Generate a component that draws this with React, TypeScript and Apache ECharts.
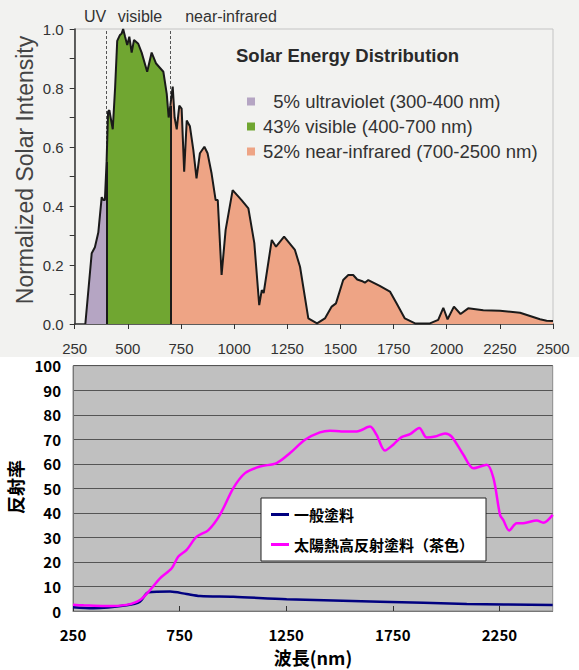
import React, { useEffect, useRef } from "react";
import * as echarts from "echarts";

// ---------- Top chart: solar spectrum ----------
const topXTicks = [250, 500, 750, 1000, 1250, 1500, 1750, 2000, 2250, 2500];
const bandLabels = ["UV", "visible", "near-infrared"];
const bandNames = [
  "  5% ultraviolet (300-400 nm)",
  "43% visible (400-700 nm)",
  "52% near-infrared (700-2500 nm)",
];
const uvData: number[][] = [
  [300, 0], [330, 0.24], [345, 0.26], [361, 0.31], [377, 0.43], [385, 0.42], [392, 0.42], [400, 0.55],
];
const visData: number[][] = [
  [400, 0.55], [407, 0.72], [413, 0.725], [419, 0.7], [429, 0.66], [440, 0.8], [450, 0.96], [463, 0.98],
  [471, 0.985], [478, 1.0], [487, 0.974], [497, 0.946], [507, 0.974], [518, 0.92], [529, 0.963],
  [549, 0.95], [565, 0.92], [591, 0.855], [612, 0.92], [632, 0.884], [667, 0.855], [683, 0.78],
  [692, 0.7], [700, 0.74],
];
const nirData: number[][] = [
  [700, 0.74], [711, 0.805], [720, 0.7], [730, 0.66], [742, 0.74], [753, 0.73], [765, 0.516],
  [777, 0.69], [792, 0.67], [808, 0.59], [823, 0.494], [839, 0.579], [860, 0.601], [875, 0.579],
  [894, 0.51], [913, 0.42], [923, 0.42], [941, 0.166], [960, 0.319], [993, 0.454], [1035, 0.42],
  [1067, 0.392], [1095, 0.274], [1118, 0.064], [1130, 0.115], [1139, 0.105], [1177, 0.285],
  [1197, 0.262], [1235, 0.296], [1286, 0.251], [1310, 0.194], [1349, 0.019], [1390, 0.002],
  [1427, 0.019], [1459, 0.059], [1479, 0.07], [1513, 0.149], [1537, 0.166], [1560, 0.166],
  [1579, 0.151], [1600, 0.146], [1615, 0.14], [1631, 0.149], [1685, 0.129], [1733, 0.11],
  [1764, 0.07], [1803, 0.019], [1851, 0.002], [1921, 0.002], [1960, 0.014], [1984, 0.055],
  [2004, 0.016], [2034, 0.059], [2065, 0.034], [2101, 0.053], [2172, 0.047], [2251, 0.045],
  [2345, 0.038], [2392, 0.027], [2439, 0.016], [2470, 0.011], [2500, 0.01],
];
const bandEdges = [400, 700];

// ---------- Bottom chart: reflectance ----------
const seriesNames = ["一般塗料", "太陽熱高反射塗料（茶色）"];
const normalPaint: number[][] = [
  [250, 1.5], [345, 1.1], [502, 2.3], [564, 3.8], [604, 7.6], [705, 7.9], [783, 6.9], [846, 6.1],
  [1002, 5.8], [1252, 4.8], [1690, 3.8], [2097, 2.9], [2500, 2.4],
];
const reflectivePaint: number[][] = [
  [250, 2.5], [300, 2.3], [400, 2.0], [500, 2.5], [564, 4.5], [619, 9.3], [658, 13.3], [713, 17.4],
  [744, 22.2], [783, 24.9], [830, 30.3], [885, 33], [939, 39.2], [1002, 50.1], [1057, 56.2],
  [1127, 58.9], [1205, 60.3], [1268, 64.4], [1338, 69.8], [1408, 72.8], [1455, 73.5], [1510, 73.2],
  [1581, 73.2], [1643, 75.2], [1674, 71.8], [1713, 65.4], [1752, 67.8], [1791, 70.9], [1831, 72.1],
  [1874, 74.6], [1909, 70.7], [1948, 71.1], [1995, 72.4], [2026, 71.1], [2081, 63.7], [2128, 58.2],
  [2191, 59.6], [2222, 54.2], [2253, 39.2], [2268, 37.1], [2296, 32.8], [2331, 35.8], [2362, 35.8],
  [2425, 36.9], [2456, 36], [2500, 39.2],
];

const UV_COLOR = "#b5a5c3";
const VIS_COLOR = "#70a631";
const NIR_COLOR = "#eea485";
const LATIN = "Liberation Sans, Arial, sans-serif";
const CJK = "Noto Sans CJK JP, sans-serif";

export default function App() {
  const ref = useRef<HTMLDivElement>(null);
  useEffect(() => {
    if (!ref.current) return;
    const chart = echarts.init(ref.current, undefined, { renderer: "svg" });
    const areaSeries = (name: string, data: number[][], color: string, extra: any = {}) => ({
      type: "line",
      name,
      xAxisIndex: 0,
      yAxisIndex: 0,
      data,
      showSymbol: false,
      symbol: "none",
      lineStyle: { color: "#1a1a1a", width: 2 },
      itemStyle: { color },
      areaStyle: { color, opacity: 1 },
      z: 2,
      ...extra,
    });
    const plain = (v: number) => String(v);
    chart.setOption({
      animation: false,
      backgroundColor: "#ffffff",
      graphic: [
        { type: "rect", z: -10, shape: { x: 0, y: 0, width: 579, height: 357 }, style: { fill: "#f2f2f0" } },
        {
          type: "text", x: 95, y: 16,
          style: { text: bandLabels[0], font: `16px ${LATIN}`, fill: "#333", textAlign: "center", textVerticalAlign: "middle" },
        },
        {
          type: "text", x: 140, y: 16,
          style: { text: bandLabels[1], font: `16px ${LATIN}`, fill: "#333", textAlign: "center", textVerticalAlign: "middle" },
        },
        {
          type: "text", x: 231, y: 16,
          style: { text: bandLabels[2], font: `16px ${LATIN}`, fill: "#333", textAlign: "center", textVerticalAlign: "middle" },
        },
        {
          type: "text", x: 236, y: 55,
          style: { text: "Solar Energy Distribution", font: `bold 18.5px ${LATIN}`, fill: "#2a2a2a", textAlign: "left", textVerticalAlign: "middle" },
        },
        {
          type: "text", x: 25, y: 170, rotation: Math.PI / 2,
          style: { text: "Normalized Solar Intensity", font: `23px ${LATIN}`, fill: "#444", textAlign: "center", textVerticalAlign: "middle" },
        },
        {
          type: "text", x: 15, y: 487, rotation: Math.PI / 2,
          style: { text: "反射率", font: `bold 18px ${CJK}`, fill: "#000", textAlign: "center", textVerticalAlign: "middle" },
        },
        {
          type: "text", x: 313, y: 657,
          style: { text: "波長(nm)", font: `bold 18px ${CJK}`, fill: "#000", textAlign: "center", textVerticalAlign: "middle" },
        },
      ],
      legend: [
        {
          left: 242, top: 87, orient: "vertical", itemWidth: 8, itemHeight: 8, itemGap: 6, icon: "rect",
          data: bandNames, selectedMode: false,
          textStyle: { fontSize: 18.5, color: "#333", fontFamily: LATIN, padding: [0, 0, 0, 3] },
        },
        {
          left: 261, top: 498, orient: "vertical", itemWidth: 18, itemHeight: 3, itemGap: 15, icon: "rect",
          data: seriesNames, selectedMode: false,
          backgroundColor: "#ffffff", borderColor: "#222", borderWidth: 1, borderRadius: 0,
          padding: [9, 12, 9, 10],
          textStyle: { fontSize: 15, color: "#000", fontFamily: CJK, fontWeight: "bold" },
        },
      ],
      grid: [
        { left: 74.7, right: 26, top: 29, height: 295, show: true, borderColor: "#c4c4c4", borderWidth: 1, backgroundColor: "transparent" },
        { left: 73, right: 26.3, top: 365.7, height: 245.3, show: true, borderColor: "#8a8a8a", borderWidth: 1, backgroundColor: "#c0c0c0" },
      ],
      xAxis: [
        {
          type: "value", gridIndex: 0, min: topXTicks[0], max: topXTicks[topXTicks.length - 1], interval: 250,
          axisLine: { show: true, lineStyle: { color: "#333", width: 1.5 } },
          axisTick: { show: true, length: 5, lineStyle: { color: "#333" } },
          axisLabel: { fontSize: 15, color: "#333", fontFamily: LATIN, margin: 17, formatter: plain },
          splitLine: { show: false },
        },
        {
          type: "value", gridIndex: 1, min: 250, max: 2500, interval: 500,
          axisLine: { show: true, lineStyle: { color: "#777", width: 1 } },
          axisTick: { show: true, inside: true, length: 5, lineStyle: { color: "#333" } },
          axisLabel: { fontSize: 15, color: "#000", fontFamily: CJK, fontWeight: "bold", margin: 16, showMaxLabel: false, formatter: plain },
          splitLine: { show: false },
        },
      ],
      yAxis: [
        {
          type: "value", gridIndex: 0, min: 0, max: 1, interval: 0.1,
          axisLine: { show: true, lineStyle: { color: "#333", width: 1.5 } },
          axisTick: { show: true, length: 5, lineStyle: { color: "#333" } },
          axisLabel: {
            fontSize: 15, color: "#333", fontFamily: LATIN, margin: 11,
            formatter: (v: number) => (Math.round(v * 10) % 2 === 0 ? v.toFixed(1) : ""),
          },
          splitLine: { show: false },
        },
        {
          type: "value", gridIndex: 1, min: 0, max: 100, interval: 10,
          axisLine: { show: true, lineStyle: { color: "#777" } },
          axisTick: { show: false },
          axisLabel: { fontSize: 15, color: "#000", fontFamily: CJK, fontWeight: "bold", margin: 12 },
          splitLine: { show: true, lineStyle: { color: "#555", width: 1 } },
        },
      ],
      series: [
        areaSeries(bandNames[0], uvData, UV_COLOR, {
          markLine: {
            silent: true, symbol: "none", label: { show: false },
            lineStyle: { color: "#555", type: [3, 2], width: 1 },
            data: bandEdges.map((e) => ({ xAxis: e })),
            z: 1,
          },
        }),
        areaSeries(bandNames[1], visData, VIS_COLOR),
        areaSeries(bandNames[2], nirData, NIR_COLOR, {
          markLine: {
            silent: true, symbol: "none", label: { show: false },
            lineStyle: { color: "#1a1a1a", type: "solid", width: 2 },
            data: [
              [{ coord: [bandEdges[0], 0] }, { coord: [bandEdges[0], 0.55] }],
              [{ coord: [bandEdges[1], 0] }, { coord: [bandEdges[1], 0.74] }],
            ],
          },
        }),
        {
          type: "line", name: seriesNames[0], xAxisIndex: 1, yAxisIndex: 1, data: normalPaint,
          showSymbol: false, symbol: "none", smooth: 0.3,
          lineStyle: { color: "#000080", width: 2.5 }, itemStyle: { color: "#000080" },
        },
        {
          type: "line", name: seriesNames[1], xAxisIndex: 1, yAxisIndex: 1, data: reflectivePaint,
          showSymbol: false, symbol: "none", smooth: 0.3,
          lineStyle: { color: "#ff00ff", width: 2.5 }, itemStyle: { color: "#ff00ff" },
        },
      ],
    });
    return () => chart.dispose();
  }, []);
  return <div ref={ref} style={{ position: "fixed", left: 0, top: 0, width: 579, height: 670 }} />;
}
